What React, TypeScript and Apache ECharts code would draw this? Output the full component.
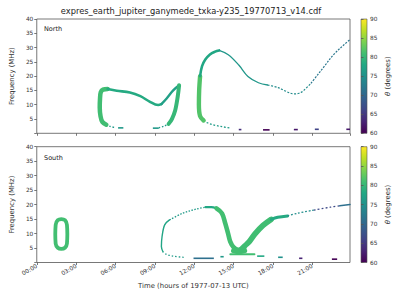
import React, { useEffect, useRef } from "react";
import * as echarts from "echarts";

// ---------- data (time in hours, frequency in MHz, theta in degrees) ----------
const X_TICKS = ["00:00", "03:00", "06:00", "09:00", "12:00", "15:00", "18:00", "21:00"];
const Y_TICKS = [5, 10, 15, 20, 25, 30, 35, 40];
const CB_TICKS = [60, 65, 70, 75, 80, 85, 90];

// North hemisphere
const N_LOOP_LEFT = [[5.3, 3.0, 81], [5.0, 4.0, 81], [4.86, 6, 81], [4.8, 9, 81], [4.82, 12, 81], [4.88, 14.4, 81], [5.05, 15.3, 81], [5.4, 15.5, 80]];
const N_LOOP_TOP = [[5.4, 15.5, 80], [6.1, 14.9, 79], [7.1, 14.3, 78], [7.9, 13.0, 78], [8.6, 11.1, 78], [9.25, 9.9, 78], [9.5, 10.2, 77]];
const N_LOOP_RISE = [[9.5, 10.2, 77], [9.9, 12.2, 77], [10.4, 15.0, 77], [10.85, 16.8, 77]];
const N_LOBE = [[10.85, 16.8, 80], [10.75, 13.0, 80], [10.55, 8.0, 80], [10.3, 5.0, 80], [10.05, 3.3, 80]];
const N_LOOP_BOTTOM_L = [[5.3, 3.0, 76], [5.6, 2.4, 76], [5.9, 2.1, 76]];
const N_LOOP_BOTTOM_R = [[9.3, 1.9, 76], [9.7, 2.5, 76], [10.05, 3.3, 76]];
const N_ARCH_LEFT = [[12.72, 4.5, 82], [12.45, 6.0, 82], [12.36, 10.0, 82], [12.38, 15.0, 82], [12.45, 20.0, 81]];
const N_ARCH_UP = [[12.45, 20.0, 80], [12.6, 23.5, 79], [12.85, 25.8, 78], [13.2, 27.6, 77], [13.6, 28.6, 77], [13.9, 29.0, 76]];
const N_ARCH_A = [[13.9, 29.0, 76], [14.6, 27.5, 76], [15.4, 23.9, 76], [16.1, 19.9, 76], [16.9, 17.7, 76], [17.6, 16.9, 75]];
const N_ARCH_B = [[17.6, 16.9, 75], [18.4, 16.0, 75], [18.9, 14.9, 75], [19.6, 13.8, 75], [20.0, 14.0, 74], [20.4, 15.2, 74], [20.9, 17.5, 73]];
const N_ARCH_C = [[20.9, 17.5, 73], [21.4, 20.4, 72], [21.9, 23.3, 72], [22.6, 27.4, 72], [23.4, 30.9, 71], [23.88, 32.8, 71]];
const N_ARCH_BOTTOM = [[12.72, 4.5, 77], [13.0, 3.7, 77], [13.6, 2.8, 76], [14.4, 2.1, 76], [14.8, 1.8, 76]];
// short bursts: [tStart, tEnd, freq, theta]
const N_DASHES = [[6.2, 6.6, 1.9, 76], [8.85, 9.3, 1.8, 76], [15.4, 15.6, 1.3, 64], [17.25, 17.75, 1.2, 60], [19.6, 19.9, 1.3, 62], [21.2, 21.5, 1.4, 66], [23.6, 23.88, 1.4, 62]];

// South hemisphere
const S_RING = [[1.87, 15.0, 81], [2.15, 14.6, 81], [2.3, 13.0, 81], [2.33, 9.8, 81], [2.3, 6.5, 81], [2.15, 5.1, 81], [1.87, 4.7, 81], [1.6, 5.1, 81], [1.44, 6.5, 81], [1.41, 9.8, 81], [1.44, 13.0, 81], [1.6, 14.6, 81], [1.87, 15.0, 81]];
const S_ARCH_BOTTOM = [[11.2, 1.8, 76], [10.37, 2.2, 76], [9.85, 2.9, 76], [9.62, 3.7, 77]];
const S_ARCH_LEFT = [[9.62, 3.7, 78], [9.5, 5.5, 78], [9.55, 8.9, 78], [9.75, 13.0, 77], [10.12, 14.7, 77]];
const S_ARCH_TOP = [[10.12, 14.7, 77], [11.12, 17.0, 76], [12.12, 18.4, 76], [12.87, 19.1, 76]];
const S_ARCH_TURN = [[12.87, 19.1, 77], [13.3, 19.1, 78], [13.7, 18.7, 79]];
const S_U_LEFT = [[13.7, 18.7, 81], [14.12, 17.0, 81], [14.37, 13.5, 81], [14.58, 10.1, 81], [14.75, 7.2, 81], [15.0, 5.3, 81], [15.37, 4.4, 81], [15.8, 5.0, 81]];
const S_U_BOTTOM = [[15.0, 4.1, 81], [15.4, 3.7, 81], [15.85, 4.1, 81]];
const S_U_FOOT = [[14.75, 2.85, 81], [16.6, 2.85, 81]];
const S_U_RIGHT = [[15.6, 4.6, 81], [15.87, 5.8, 81], [16.2, 7.2, 81], [16.62, 9.8, 81], [17.25, 12.8, 81], [17.87, 14.9, 80]];
const S_U_TOP = [[17.87, 14.9, 80], [18.37, 15.6, 78], [19.12, 16.1, 77]];
const S_TAIL_A = [[19.12, 16.1, 75], [19.87, 17.0, 75], [21.12, 18.1, 74]];
const S_TAIL_B = [[21.12, 18.1, 67], [22.37, 19.1, 66], [23.1, 19.6, 67]];
const S_TAIL_C = [[23.1, 19.6, 71], [23.88, 20.0, 71]];
const S_DASHES = [[11.95, 13.5, 1.45, 71], [14.0, 14.25, 2.0, 76], [16.8, 17.35, 2.2, 78], [18.4, 18.75, 1.8, 75], [20.0, 20.25, 1.45, 63], [22.5, 22.9, 1.15, 60]];

// ---------- helpers ----------
const VIRIDIS = ["#440154", "#482475", "#414487", "#355f8d", "#2a788e", "#21918c", "#22a884", "#42be71", "#7ad151", "#bddf26", "#fde725"];
function hex(c: string) {
  return [parseInt(c.slice(1, 3), 16), parseInt(c.slice(3, 5), 16), parseInt(c.slice(5, 7), 16)];
}
function viridis(theta: number) {
  let u = (theta - 60) / 30;
  u = Math.max(0, Math.min(1, u));
  const p = u * 10;
  const i = Math.min(9, Math.floor(p));
  const f = p - i;
  const a = hex(VIRIDIS[i]);
  const b = hex(VIRIDIS[i + 1]);
  const c = a.map((v, k) => Math.round(v + (b[k] - v) * f));
  return `rgb(${c[0]},${c[1]},${c[2]})`;
}
function meanTheta(d: number[][]) {
  return d.reduce((s, p) => s + p[2], 0) / d.length;
}

const FONT = "DejaVu Sans";
const TXT = "#333";
const FRAME = "#555";

function curve(idx: number, data: number[][], width: number, dash?: number[], smooth = 0.35) {
  return {
    type: "line",
    xAxisIndex: idx,
    yAxisIndex: idx,
    data: data.map((p) => [p[0], p[1]]),
    showSymbol: false,
    symbol: "none",
    smooth,
    silent: true,
    lineStyle: {
      color: viridis(meanTheta(data)),
      width,
      type: dash ? dash : "solid",
      cap: dash ? "butt" : "round",
      join: "round",
    },
  };
}

function dashes(idx: number, data: number[][]) {
  return {
    type: "custom",
    xAxisIndex: idx,
    yAxisIndex: idx,
    data,
    encode: { x: [0, 1], y: 2 },
    silent: true,
    renderItem: (params: any, api: any) => {
      const a = api.coord([api.value(0), api.value(2)]);
      const b = api.coord([api.value(1), api.value(2)]);
      return {
        type: "rect",
        shape: { x: a[0], y: a[1] - 0.8, width: Math.max(1, b[0] - a[0]), height: 1.6 },
        style: { fill: viridis(api.value(3)) },
      };
    },
  };
}

const PLOT_L = 31.7;
const PLOT_W = 318.3;
const GRIDS = [
  { top: 19, height: 114.3 },
  { top: 146.7, height: 115.8 },
];

export default function App() {
  const ref = useRef<HTMLDivElement>(null);
  useEffect(() => {
    if (!ref.current) return;
    const chart = echarts.init(ref.current, undefined, { renderer: "svg" });
    const cbGradient = new echarts.graphic.LinearGradient(
      0, 0, 0, 1,
      VIRIDIS.slice().reverse().map((c, i) => ({ offset: i / 10, color: c }))
    );
    const grid: any[] = [];
    const xAxis: any[] = [];
    const yAxis: any[] = [];
    GRIDS.forEach((g, i) => {
      grid.push({ left: PLOT_L, top: g.top, width: PLOT_W, height: g.height, show: true, borderColor: FRAME, borderWidth: 0.8, backgroundColor: "#fff" });
      xAxis.push({
        type: "value", gridIndex: i, min: 0, max: 23.88, interval: 3,
        axisLine: { show: false },
        axisTick: { show: true, length: 2.5, lineStyle: { color: FRAME, width: 0.8 } },
        splitLine: { show: false },
        axisLabel: {
          show: i === 1, rotate: 30, fontSize: 5.8, fontFamily: FONT, color: TXT, margin: 3,
          showMaxLabel: false,
          formatter: (v: number) => X_TICKS[Math.round(v / 3)] ?? "",
        },
        name: i === 1 ? "Time (hours of 1977-07-13 UTC)" : "",
        nameLocation: "middle", nameGap: 20,
        nameTextStyle: { fontSize: 6.9, fontFamily: FONT, color: TXT },
      });
      yAxis.push({
        type: "value", gridIndex: i, min: 0, max: 40, interval: 5,
        axisLine: { show: false },
        axisTick: { show: true, length: 2.5, lineStyle: { color: FRAME, width: 0.8 } },
        splitLine: { show: false },
        axisLabel: {
          fontSize: 5.8, fontFamily: FONT, color: TXT, margin: 3.5,
          formatter: (v: number) => (Y_TICKS.includes(v) ? String(v) : ""),
        },
        name: "Frequency (MHz)", nameLocation: "middle", nameGap: 16,
        nameTextStyle: { fontSize: 6.9, fontFamily: FONT, color: TXT },
      });
    });
    GRIDS.forEach((g, i) => {
      grid.push({ left: 361, top: g.top, width: 6, height: g.height, show: true, borderColor: FRAME, borderWidth: 0.6, backgroundColor: cbGradient });
      xAxis.push({ type: "value", gridIndex: 2 + i, min: 0, max: 1, show: false });
      yAxis.push({
        type: "value", gridIndex: 2 + i, min: 60, max: 90, interval: 5, position: "right",
        axisLine: { show: false },
        axisTick: { show: true, length: 2.5, lineStyle: { color: FRAME, width: 0.8 } },
        splitLine: { show: false },
        axisLabel: {
          fontSize: 5.8, fontFamily: FONT, color: TXT, margin: 3,
          formatter: (v: number) => (CB_TICKS.includes(v) ? String(v) : ""),
        },
        name: "{i|θ} (degrees)", nameLocation: "middle", nameGap: 17, nameRotate: 90,
        nameTextStyle: {
          fontSize: 6.9, fontFamily: FONT, color: TXT,
          rich: { i: { fontSize: 6.9, fontFamily: FONT, fontStyle: "italic", color: TXT } },
        },
      });
    });

    const series: any[] = [
      // North
      curve(0, N_LOOP_BOTTOM_L, 1.3, [1.5, 1.8]),
      curve(0, N_LOOP_BOTTOM_R, 1.3, [1.5, 1.8]),
      curve(0, N_LOOP_LEFT, 4.5),
      curve(0, N_LOOP_TOP, 2.6),
      curve(0, N_LOOP_RISE, 2.4),
      curve(0, N_LOBE, 4),
      curve(0, N_ARCH_BOTTOM, 1.3, [1.8, 1.8]),
      curve(0, N_ARCH_LEFT, 4.4),
      curve(0, N_ARCH_UP, 2.6),
      curve(0, N_ARCH_A, 1.3),
      curve(0, N_ARCH_B, 1.2, [2, 1.5]),
      curve(0, N_ARCH_C, 1.2, [2, 1.3]),
      dashes(0, N_DASHES),
      // South
      curve(1, S_RING, 3.8, undefined, 0.5),
      curve(1, S_ARCH_BOTTOM, 1.3, [1.5, 2]),
      curve(1, S_ARCH_LEFT, 1.4),
      curve(1, S_ARCH_TOP, 1.3, [1.5, 1.5]),
      curve(1, S_ARCH_TURN, 2.2),
      curve(1, S_U_FOOT, 1.8, undefined, 0),
      curve(1, S_U_LEFT, 4.6),
      curve(1, S_U_BOTTOM, 5, undefined, 0.3),
      curve(1, S_U_RIGHT, 5.6),
      curve(1, S_U_TOP, 3),
      curve(1, S_TAIL_A, 1.3, [1.8, 1.8]),
      curve(1, S_TAIL_B, 1.3, [1.8, 2.2]),
      curve(1, S_TAIL_C, 1.5),
      dashes(1, S_DASHES),
    ];

    chart.setOption({
      animation: false,
      backgroundColor: "#fff",
      textStyle: { fontFamily: FONT },
      grid,
      xAxis,
      yAxis,
      series,
      graphic: [
        { type: "text", x: 191, y: 11, style: { text: "expres_earth_jupiter_ganymede_txka-y235_19770713_v14.cdf", fontSize: 8.3, fontFamily: FONT, fill: "#222", align: "center", verticalAlign: "middle" } },
        { type: "text", x: 44, y: 29, style: { text: "North", fontSize: 6.5, fontFamily: FONT, fill: "#222", align: "left", verticalAlign: "middle" } },
        { type: "text", x: 44, y: 158, style: { text: "South", fontSize: 6.5, fontFamily: FONT, fill: "#222", align: "left", verticalAlign: "middle" } },
      ],
    });
    return () => chart.dispose();
  }, []);
  return <div ref={ref} style={{ position: "fixed", left: 0, top: 0, width: 400, height: 300 }} />;
}
